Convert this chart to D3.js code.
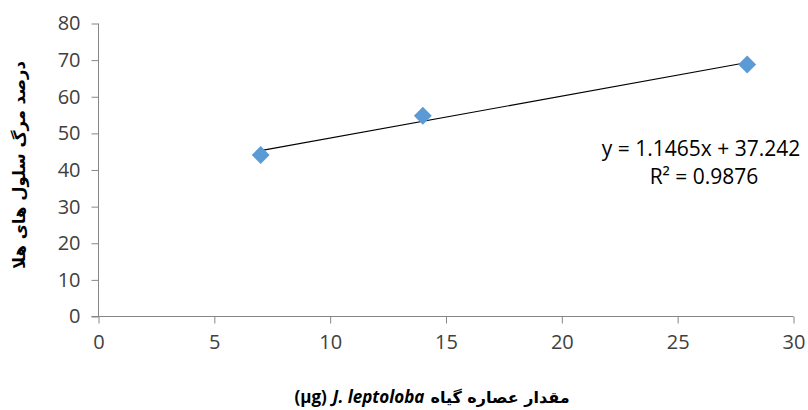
<!DOCTYPE html>
<html>
<head>
<meta charset="utf-8">
<script src="https://cdn.jsdelivr.net/npm/d3@7"></script>
<style>
  html, body { margin: 0; padding: 0; background: #fff; }
  svg { display: block; }
  .axis path, .axis line { stroke: #868686; stroke-width: 1; }
  .axis text { font-family: "Open Sans", sans-serif; font-size: 20px; fill: #404040; }
</style>
</head>
<body>
<svg id="chart" width="808" height="410"></svg>
<script>
// Data
const doses = [7, 14, 28];            // µg
const deathPct = [44.1, 54.8, 68.8];  // % dead HeLa cells
const xTicks = [0, 5, 10, 15, 20, 25, 30];
const yTicks = [0, 10, 20, 30, 40, 50, 60, 70, 80];
const slope = 1.1465, intercept = 37.242, r2 = 0.9876;

const svg = d3.select("#chart");
const x = d3.scaleLinear().domain([0, 30]).range([98.5, 793.5]);
const y = d3.scaleLinear().domain([0, 80]).range([316.5, 23.5]);

// Axes
svg.append("g").attr("class", "axis")
  .attr("transform", `translate(0,${y(0)})`)
  .call(d3.axisBottom(x).tickValues(xTicks).tickSize(7).tickPadding(11).tickSizeOuter(0))
  .call(g => g.select(".domain").attr("d", `M${x(0) - 7},0H${x(30)}`));

svg.append("g").attr("class", "axis")
  .attr("transform", `translate(${x(0)},0)`)
  .call(d3.axisLeft(y).tickValues(yTicks).tickSize(7).tickPadding(11).tickSizeOuter(0))
  .call(g => g.select(".domain").attr("d", `M0,${y(0)}V${y(80)}`));

svg.selectAll(".axis .tick text").attr("font-family", null).attr("font-size", null);

// Linear trendline over the data range
const x0 = d3.min(doses), x1 = d3.max(doses);
svg.append("line")
  .attr("x1", x(x0)).attr("y1", y(slope * x0 + intercept))
  .attr("x2", x(x1)).attr("y2", y(slope * x1 + intercept))
  .attr("stroke", "#000").attr("stroke-width", 1.2);

// Diamond markers
const diamond = d3.symbol().type(d3.symbolSquare).size(160);
svg.append("g").selectAll("path")
  .data(doses.map((d, i) => [d, deathPct[i]]))
  .join("path")
  .attr("d", diamond)
  .attr("transform", d => `translate(${x(d[0])},${y(d[1])}) rotate(45)`)
  .attr("fill", "#5B9BD5");

// Equation label
const eq = svg.append("text")
  .attr("font-family", "Open Sans, sans-serif").attr("font-size", 21)
  .attr("fill", "#000").attr("text-anchor", "middle");
eq.append("tspan").attr("x", 701).attr("y", 156)
  .text(`y = ${slope}x + ${intercept}`);
eq.append("tspan").attr("x", 704).attr("y", 184)
  .text(`R² = ${r2}`);

// Y axis title (rotated Persian)
svg.append("text")
  .attr("transform", `translate(25,165) rotate(-90)`)
  .attr("text-anchor", "middle")
  .attr("font-family", "DejaVu Sans, sans-serif")
  .attr("font-size", 16.5).attr("font-weight", "bold")
  .attr("direction", "rtl")
  .text("درصد مرگ سلول های هلا");

// X axis title: pieces laid out left to right, then centred as a group
const xtParts = [
  { t: "(µg)", font: "Open Sans, sans-serif", size: 17, italic: false },
  { t: "J. leptoloba", font: "Open Sans, sans-serif", size: 17, italic: true },
  { t: "مقدار عصاره گیاه", font: "DejaVu Sans, sans-serif", size: 16, italic: false },
];
const xtGap = 6;
const xt = svg.append("g");
let cursor = 0;
xtParts.forEach(p => {
  const t = xt.append("text")
    .attr("x", cursor).attr("y", 403)
    .attr("font-family", p.font).attr("font-size", p.size)
    .attr("font-weight", "bold")
    .attr("font-style", p.italic ? "italic" : null)
    .text(p.t);
  cursor += t.node().getComputedTextLength() + xtGap;
});
xt.attr("transform", `translate(${432 - (cursor - xtGap) / 2},0)`);
</script>
</body>
</html>
